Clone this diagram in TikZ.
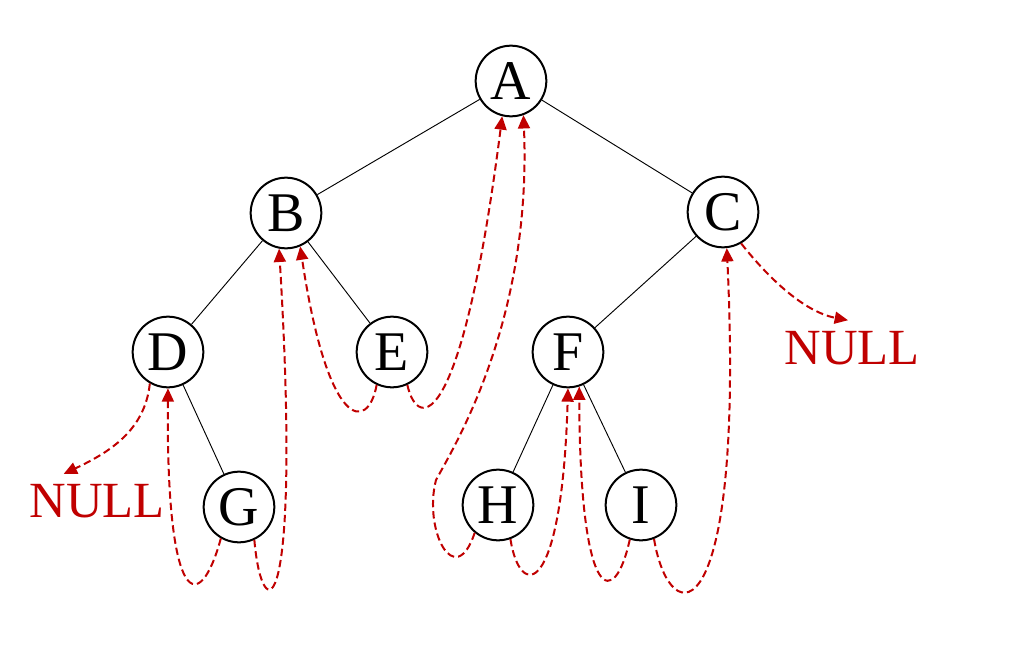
\documentclass[tikz,border=0pt]{standalone}
\usepackage{fontspec}
\setmainfont{Liberation Serif}
\usetikzlibrary{arrows.meta}
\definecolor{fadenrot}{RGB}{192,0,0}

\begin{document}
\begin{tikzpicture}[x=0.75pt,y=-0.75pt,
        knoten/.style={circle,draw,line width=1.5pt,minimum size=53pt,inner sep=0pt,
            font=\fontsize{42}{42}\selectfont},
        kante/.style={line width=0.7pt},
        faden/.style={draw=fadenrot,line width=1.5pt,dash pattern=on 5.5pt off 3pt,
            -{Triangle[length=10pt,width=9pt]}},
        nullwert/.style={text=fadenrot,inner sep=0pt,font=\fontsize{38}{38}\selectfont}]
            \useasboundingbox (0,0) rectangle (1025,671);
            % Knoten:
            \node[knoten] (A) at (511,81) {A};
            \node[knoten] (B) at (286,213) {B};
            \node[knoten] (C) at (723,212) {C};
            \node[knoten] (D) at (168,352) {D};
            \node[knoten] (E) at (392,352) {E};
            \node[knoten] (F) at (568,352) {F};
            \node[knoten] (G) at (239,507) {G};
            \node[knoten] (H) at (498,505) {H};
            \node[knoten] (I) at (641,505) {I};
            \node[nullwert] (nullC) at (852,348) {NULL};
            \node[nullwert] (nullD) at (97,501) {NULL};
            % Kanten:
            \draw[kante] (A) -- (B);
            \draw[kante] (A) -- (C);
            \draw[kante] (B) -- (D);
            \draw[kante] (B) -- (E);
            \draw[kante] (C) -- (F);
            \draw[kante] (D) -- (G);
            \draw[kante] (F) -- (H);
            \draw[kante] (F) -- (I);
            % Faeden:
            \draw[faden] (D.240) .. controls (145,430) and (110,452)
                .. ([xshift=-25pt,yshift=7.5pt]nullD.north);
            \draw[faden] (G.240) .. controls (200,615) and (166,612) .. (D.270);
            \draw[faden] (G.295) .. controls (262,630) and (302,630) .. (B.259);
            \draw[faden] (E.245) .. controls (368,432) and (328,432) .. (B.293);
            \draw[faden] (E.295) .. controls (418,432) and (462,432) .. (A.256);
            \draw[faden] (H.230) .. controls (455,592) and (423,530) .. (436,480)
                .. controls (455,445) and (532,320) .. (A.290);
            \draw[faden] (H.290) .. controls (520,600) and (562,600) .. (F.270);
            \draw[faden] (I.252) .. controls (615,608) and (580,610) .. (F.288);
            \draw[faden] (I.291) .. controls (670,635) and (745,635) .. (C.276);
            \draw[faden] (C.300) .. controls (770,280) and (805,312)
                .. ([xshift=-3pt,yshift=8pt]nullC.north);
\end{tikzpicture}
\end{document}
